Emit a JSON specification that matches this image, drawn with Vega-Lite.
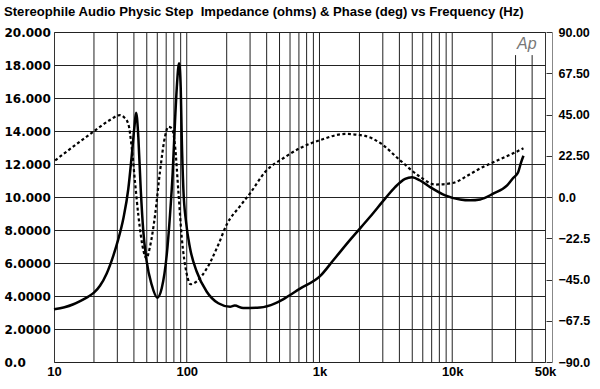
{
  "$schema": "https://vega.github.io/schema/vega-lite/v6.json",
  "autosize": {"type": "none"},
  "width": 491,
  "height": 330,
  "padding": {"left": 54, "top": 32, "right": 55, "bottom": 27},
  "background": "white",
  "config": {
    "view": {"stroke": "#333", "strokeWidth": 1},
    "axis": {"labelFont": "Liberation Sans", "labelFontWeight": "bold", "labelColor": "#000", "title": null, "labelOverlap": false, "labelFlush": false},
    "axisY": {"labelOverlap": false},
    "axisLeft": {"labelOverlap": false}
  },
  "title": {
    "text": "Stereophile Audio Physic Step\u00a0 Impedance (ohms) & Phase (deg) vs Frequency (Hz)",
    "anchor": "start",
    "frame": "group",
    "font": "Liberation Sans",
    "fontSize": 13.1,
    "fontWeight": "bold",
    "color": "#000",
    "dx": -50,
    "offset": 7
  },
  "datasets": {
    "impedance": [
      {"f": 10, "z": 3.2}, {"f": 12, "z": 3.32}, {"f": 14, "z": 3.5}, {"f": 16, "z": 3.72},
      {"f": 18, "z": 3.95}, {"f": 20, "z": 4.2},
      {"f": 22.2, "z": 4.62}, {"f": 24.9, "z": 5.35}, {"f": 28, "z": 6.45}, {"f": 30.4, "z": 7.4},
      {"f": 33.3, "z": 8.7}, {"f": 36.3, "z": 10.5}, {"f": 38.5, "z": 12.5}, {"f": 40.3, "z": 14.2},
      {"f": 41.5, "z": 15.1}, {"f": 42.2, "z": 14.8}, {"f": 43.2, "z": 13.6}, {"f": 45, "z": 10.5},
      {"f": 47.1, "z": 7.9}, {"f": 49.9, "z": 6.1}, {"f": 54.5, "z": 4.67}, {"f": 60, "z": 3.9},
      {"f": 64.8, "z": 4.47}, {"f": 70.7, "z": 6.5}, {"f": 74.8, "z": 8.9}, {"f": 78.4, "z": 11.5},
      {"f": 81.6, "z": 14.6}, {"f": 84.1, "z": 16.6}, {"f": 87.5, "z": 18.1}, {"f": 90.1, "z": 16.6},
      {"f": 91.7, "z": 13.6}, {"f": 94.3, "z": 10.5}, {"f": 98.8, "z": 8.5}, {"f": 105.9, "z": 6.9},
      {"f": 119, "z": 5.47}, {"f": 141.5, "z": 4.26}, {"f": 173, "z": 3.56}, {"f": 212, "z": 3.35},
      {"f": 230, "z": 3.42}, {"f": 266, "z": 3.27}, {"f": 357, "z": 3.3}, {"f": 463, "z": 3.55},
      {"f": 532, "z": 3.8}, {"f": 714, "z": 4.45}, {"f": 1010, "z": 5.2}, {"f": 1266, "z": 6.15},
      {"f": 1700, "z": 7.4}, {"f": 2406, "z": 8.8}, {"f": 3121, "z": 9.9}, {"f": 3713, "z": 10.6},
      {"f": 4418, "z": 11.1}, {"f": 4987, "z": 11.2}, {"f": 5730, "z": 11.0}, {"f": 6817, "z": 10.6},
      {"f": 8843, "z": 10.1}, {"f": 11470, "z": 9.85}, {"f": 13640, "z": 9.8}, {"f": 16230, "z": 9.85},
      {"f": 20330, "z": 10.2}, {"f": 25930, "z": 10.7}, {"f": 28770, "z": 11.15}, {"f": 31380, "z": 11.5},
      {"f": 32890, "z": 12.06}, {"f": 34410, "z": 12.5}
    ],
    "phase": [
      {"f": 10.2, "p": 20}, {"f": 19.8, "p": 35.6}, {"f": 26.4, "p": 42}, {"f": 31.4, "p": 44.7},
      {"f": 33.7, "p": 43.5}, {"f": 36.3, "p": 39.8}, {"f": 38.5, "p": 27}, {"f": 40.8, "p": 8},
      {"f": 43.2, "p": -10}, {"f": 47.1, "p": -29}, {"f": 49.6, "p": -33.5}, {"f": 52.9, "p": -27},
      {"f": 57.7, "p": -10}, {"f": 62.9, "p": 14}, {"f": 68.6, "p": 33}, {"f": 72.6, "p": 38.3},
      {"f": 77.1, "p": 37.5}, {"f": 81.6, "p": 28}, {"f": 86.5, "p": 3}, {"f": 91.7, "p": -22},
      {"f": 100, "p": -42}, {"f": 106.8, "p": -47.6}, {"f": 119, "p": -46}, {"f": 141.5, "p": -39},
      {"f": 173, "p": -26}, {"f": 200, "p": -15}, {"f": 252, "p": -5}, {"f": 300, "p": 2},
      {"f": 389, "p": 13.6}, {"f": 551, "p": 21.8}, {"f": 714, "p": 26.7}, {"f": 1010, "p": 31},
      {"f": 1559, "p": 34.4}, {"f": 2206, "p": 33.3}, {"f": 2862, "p": 29.5}, {"f": 4050, "p": 20},
      {"f": 5730, "p": 11}, {"f": 7432, "p": 6.8}, {"f": 10000, "p": 7.6}, {"f": 13640, "p": 12.5},
      {"f": 16230, "p": 15.6}, {"f": 22960, "p": 20.6}, {"f": 28770, "p": 23.8}, {"f": 34410, "p": 26.6}
    ],
    "grid": [
      {"f": 20, "z": 20}, {"f": 30, "z": 20}, {"f": 40, "z": 20}, {"f": 50, "z": 20},
      {"f": 60, "z": 20}, {"f": 70, "z": 20}, {"f": 80, "z": 20}, {"f": 90, "z": 20},
      {"f": 100, "z": 20}, {"f": 200, "z": 20}, {"f": 300, "z": 20}, {"f": 400, "z": 20},
      {"f": 500, "z": 20}, {"f": 600, "z": 20}, {"f": 700, "z": 20}, {"f": 800, "z": 20},
      {"f": 900, "z": 20}, {"f": 1000, "z": 20}, {"f": 2000, "z": 20}, {"f": 3000, "z": 20},
      {"f": 4000, "z": 20}, {"f": 5000, "z": 20}, {"f": 6000, "z": 20}, {"f": 7000, "z": 20},
      {"f": 8000, "z": 20}, {"f": 9000, "z": 20}, {"f": 10000, "z": 20}, {"f": 20000, "z": 20},
      {"f": 30000, "z": 18.6}, {"f": 40000, "z": 18.6}
    ],
    "logo": [{"f": 36500, "z": 19.3, "t": "Ap"}]
  },
  "layer": [
    {
      "encoding": {
        "x": {"field": "f", "type": "quantitative", "scale": {"type": "log", "domain": [10, 50000], "nice": false},
              "axis": {"values": [10, 100, 1000, 10000, 50000], "grid": false, "ticks": false, "domain": false,
                       "labelFontSize": 13, "labelPadding": 3, "labelOverlap": false, "labelFlush": false,
                       "labelExpr": "datum.value >= 1000 ? (datum.value / 1000) + 'k' : '' + datum.value"}},
        "y": {"field": "z", "type": "quantitative", "scale": {"domain": [0, 20], "nice": false},
              "axis": {"values": [0, 2, 4, 6, 8, 10, 12, 14, 16, 18, 20], "grid": true, "gridColor": "#222", "gridOpacity": 1,
                       "ticks": false, "domain": false, "labelFont": "DejaVu Sans", "labelFontSize": 12,
                       "labelAlign": "left", "labelPadding": 50,
                       "labelOverlap": false, "labelFlush": false,
                       "labelExpr": "datum.value == 0 ? '0.0' : (datum.value >= 10 ? format(datum.value, '.3f') : format(datum.value, '.4f'))"}}
      },
      "layer": [
        {
          "data": {"name": "grid"},
          "mark": {"type": "rule", "color": "#222", "strokeWidth": 1},
          "encoding": {"y2": {"datum": 0}}
        },
        {
          "data": {"name": "impedance"},
          "mark": {"type": "line", "color": "#000", "strokeWidth": 2.5, "interpolate": "monotone"},
          "encoding": {}
        },
        {
          "data": {"name": "logo"},
          "mark": {"type": "text", "font": "Liberation Sans", "fontStyle": "italic", "fontSize": 16, "color": "#777", "align": "center", "baseline": "middle"},
          "encoding": {"text": {"field": "t"}}
        }
      ]
    },
    {
      "data": {"name": "phase"},
      "mark": {"type": "line", "color": "#000", "strokeWidth": 2.2, "strokeDash": [3, 2.5], "interpolate": "monotone"},
      "encoding": {
        "x": {"field": "f", "type": "quantitative"},
        "y": {"field": "p", "type": "quantitative", "scale": {"domain": [-90, 90], "nice": false},
              "axis": {"orient": "right", "values": [-90, -67.5, -45, -22.5, 0, 22.5, 45, 67.5, 90], "grid": false,
                       "offset": 7, "domain": true, "domainColor": "#888", "ticks": true, "tickSize": -6, "tickColor": "#333",
                       "labelPadding": 12, "labelFontSize": 12.5, "labelOverlap": false, "labelFlush": false,
                       "labelExpr": "datum.value == 0 ? '0.0' : (datum.value > 0 ? format(datum.value, '.2f') : format(datum.value, '.1f'))"}}
      }
    }
  ],
  "resolve": {"scale": {"y": "independent"}}
}
